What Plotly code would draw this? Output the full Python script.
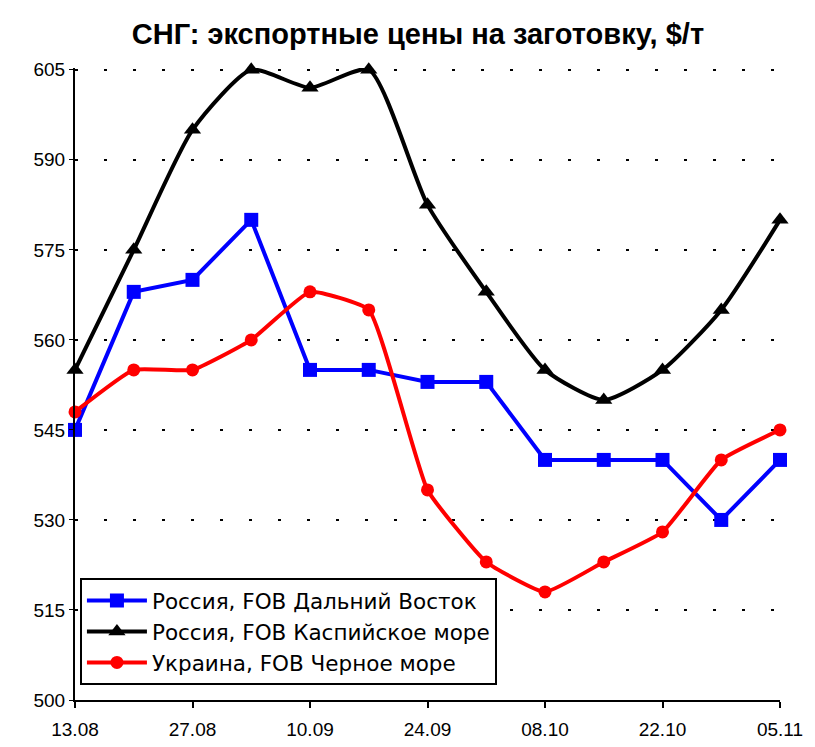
import plotly.graph_objects as go

dates = ["13.08", "20.08", "27.08", "03.09", "10.09", "17.09", "24.09",
         "01.10", "08.10", "15.10", "22.10", "29.10", "05.11"]
tick_labels = ["13.08", "27.08", "10.09", "24.09", "08.10", "22.10", "05.11"]
y_ticks = [500, 515, 530, 545, 560, 575, 590, 605]

far_east = [545, 568, 570, 580, 555, 555, 553, 553, 540, 540, 540, 530, 540]
caspian = [555, 575, 595, 605, 602, 605, 582.5, 568, 555, 550, 555, 565, 580]
black_sea = [548, 555, 555, 560, 568, 565, 535, 523, 518, 523, 528, 540, 545]

names = ["Россия, FOB Дальний Восток", "Россия, FOB Каспийское море", "Украина, FOB Черное море"]

xs = list(range(len(dates)))
fig = go.Figure()
fig.add_trace(go.Scatter(x=xs, y=far_east, name=names[0], mode="lines+markers",
                         line=dict(color="#0000ff", width=4),
                         marker=dict(symbol="square", size=14, color="#0000ff"),
                         cliponaxis=False))
fig.add_trace(go.Scatter(x=xs, y=caspian, name=names[1], mode="lines+markers",
                         line=dict(color="#000000", width=4, shape="spline", smoothing=0.6),
                         marker=dict(symbol="triangle-up", size=15, color="#000000"),
                         cliponaxis=False))
fig.add_trace(go.Scatter(x=xs, y=black_sea, name=names[2], mode="lines+markers",
                         line=dict(color="#ff0000", width=4, shape="spline", smoothing=0.4),
                         marker=dict(symbol="circle", size=13, color="#ff0000"),
                         cliponaxis=False))

tickpos = [dates.index(t) for t in tick_labels]

fig.update_layout(
    width=807, height=739,
    paper_bgcolor="white", plot_bgcolor="white",
    margin=dict(l=67, r=35, t=60, b=47, autoexpand=False),
    font=dict(family="Liberation Sans, Arial, sans-serif", size=19, color="black"),
    title=dict(text="<b>СНГ: экспортные цены на заготовку, $/т</b>", x=0.508, xanchor="center",
               y=0.965, yanchor="middle",
               font=dict(size=29, family="Liberation Sans, Arial, sans-serif")),
    showlegend=True,
    legend=dict(x=0.007, y=0.193, xanchor="left", yanchor="top",
                bgcolor="white", bordercolor="black", borderwidth=2,
                font=dict(size=21.5, family="DejaVu Sans, sans-serif"), tracegroupgap=0, itemwidth=60),
    xaxis=dict(range=[0, len(dates) - 1], tickvals=tickpos, ticktext=tick_labels,
               showgrid=False, zeroline=False, showline=True, linecolor="black", linewidth=2,
               ticks="outside", ticklen=6, tickwidth=2, tickcolor="black", automargin=False,
               ticklabelstandoff=5, tickfont=dict(size=19)),
    yaxis=dict(range=[500, 605.3], tickvals=y_ticks, showgrid=True, gridcolor="black",
               gridwidth=2, griddash="3px,26px", zeroline=False, showline=True,
               linecolor="black", linewidth=2, ticks="outside", ticklen=4, tickwidth=1,
               tickcolor="black", automargin=False, tickfont=dict(size=19)),
)

fig.write_html("out.html")
